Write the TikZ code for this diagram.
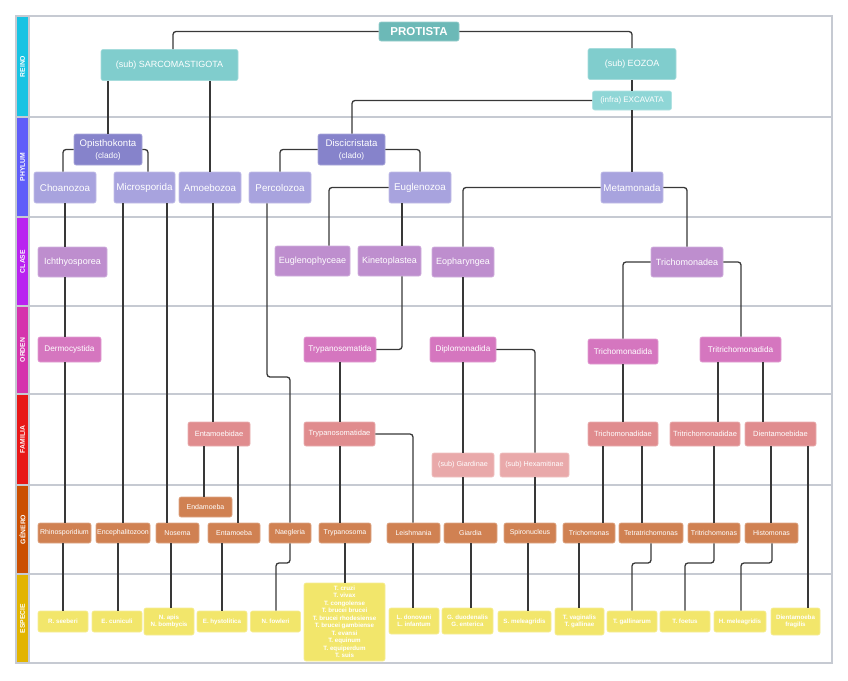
\documentclass[tikz,border=0pt]{standalone}
\usepackage{fontspec}
\setmainfont{Liberation Sans}

\definecolor{gridgray}{HTML}{C6CAD2}
\definecolor{linkc}{HTML}{383838}
\definecolor{protc}{HTML}{6CB9B7}
\definecolor{reinoc}{HTML}{80CDCD}
\definecolor{infrac}{HTML}{8FD6D6}
\definecolor{cladoc}{HTML}{8683CB}
\definecolor{phylumc}{HTML}{A8A3DE}
\definecolor{clasec}{HTML}{BE8ECE}
\definecolor{ordenc}{HTML}{D576BF}
\definecolor{familiac}{HTML}{E08C8E}
\definecolor{subfamc}{HTML}{E9A9AA}
\definecolor{generoc}{HTML}{D08152}
\definecolor{especiec}{HTML}{F2E66B}
\definecolor{reinoband}{HTML}{17C3E3}
\definecolor{phylumband}{HTML}{5F5DF9}
\definecolor{claseband}{HTML}{B923F0}
\definecolor{ordenband}{HTML}{D534AD}
\definecolor{familiaband}{HTML}{E81717}
\definecolor{generoband}{HTML}{CB4F02}
\definecolor{especieband}{HTML}{E2B400}

\tikzset{
  taxon/.style={rectangle, rounded corners=2pt, inner sep=0pt, align=center, text=white, line width=0.6pt},
  protista/.style={taxon, fill=protc, draw=protc!70!white, minimum height=19pt, font=\bfseries\fontsize{11.5}{13}\selectfont},
  subreino/.style={taxon, fill=reinoc, draw=reinoc!70!white, minimum height=31pt, font=\fontsize{9}{11}\selectfont},
  infra/.style={taxon, fill=infrac, draw=infrac!70!white, minimum height=19pt, font=\fontsize{8}{10}\selectfont},
  clado/.style={taxon, fill=cladoc, draw=cladoc!70!white, minimum height=31pt, font=\fontsize{9.6}{12}\selectfont},
  phylum/.style={taxon, fill=phylumc, draw=phylumc!70!white, minimum height=31pt, font=\fontsize{9.8}{12}\selectfont},
  clase/.style={taxon, fill=clasec, draw=clasec!70!white, minimum height=30pt, font=\fontsize{9}{11}\selectfont},
  orden/.style={taxon, fill=ordenc, draw=ordenc!70!white, minimum height=25pt, font=\fontsize{8.2}{10}\selectfont},
  familia/.style={taxon, fill=familiac, draw=familiac!70!white, minimum height=24pt, font=\fontsize{7.5}{9}\selectfont},
  subfam/.style={taxon, fill=subfamc, draw=subfamc!70!white, minimum height=24pt, font=\fontsize{7.2}{9}\selectfont},
  genero/.style={taxon, fill=generoc, draw=generoc!70!white, minimum height=20pt, font=\fontsize{7}{8.5}\selectfont},
  especie/.style={taxon, fill=especiec, draw=especiec!70!white, minimum height=21pt, font=\bfseries\fontsize{6.2}{7.5}\selectfont},
  link/.style={draw=linkc, line width=1.3pt, rounded corners=3pt},
  bandlabel/.style={rotate=90, text=white, font=\bfseries\fontsize{6.8}{8}\selectfont}
}

\begin{document}
\begin{tikzpicture}[x=1pt,y=-1pt]
\useasboundingbox (0,0) rectangle (848,680);
\fill[white] (0,0) rectangle (848,680);
\fill[reinoband] (16,16) rectangle (29,117);
\fill[phylumband] (16,117) rectangle (29,217);
\fill[claseband] (16,217) rectangle (29,306);
\fill[ordenband] (16,306) rectangle (29,394);
\fill[familiaband] (16,394) rectangle (29,485);
\fill[generoband] (16,485) rectangle (29,574);
\fill[especieband] (16,574) rectangle (29,663);
\foreach \y in {117,217,306,394,485,574}
  \draw[gridgray, line width=1.2pt] (16,\y) -- (832,\y);
\draw[gridgray, line width=1.2pt] (16,16) rectangle (832,663);
\draw[gridgray, line width=1.2pt] (29,16) -- (29,663);
\node[bandlabel] (lreino) at (22.5,66.5) {REINO};
\node[bandlabel] (lphylum) at (22.5,167) {PHYLUM};
\node[bandlabel] (lclase) at (22.5,261.5) {CLASE};
\node[bandlabel] (lorden) at (22.5,350) {ORDEN};
\node[bandlabel] (lfamilia) at (22.5,439.5) {FAMILIA};
\node[bandlabel] (lgenero) at (22.5,529.5) {GÉNERO};
\node[bandlabel] (lespecie) at (22.5,618.5) {ESPECIE};

\node[protista, minimum width=80pt] (protista) at (419,31.5) {PROTISTA};
\node[subreino, minimum width=137pt] (sarco) at (169.5,65) {(sub) SARCOMASTIGOTA};
\node[subreino, minimum width=88pt] (eozoa) at (632,64) {(sub) EOZOA};
\node[infra, minimum width=79pt] (excavata) at (632,100.5) {(infra) EXCAVATA};

\node[clado, minimum width=68pt] (opistho) at (108,149.5) {Opisthokonta\\{\fontsize{8.3}{9}\selectfont(clado)}};
\node[clado, minimum width=67pt] (disci) at (351.5,149.5) {Discicristata\\{\fontsize{8.3}{9}\selectfont(clado)}};
\node[phylum, minimum width=62pt] (choano) at (65,187.5) {Choanozoa};
\node[phylum, minimum width=61pt] (micro) at (144.5,187.5) {Microsporida};
\node[phylum, minimum width=62pt] (amoebozoa) at (210,187.5) {Amoebozoa};
\node[phylum, minimum width=62pt] (perco) at (280,187.5) {Percolozoa};
\node[phylum, minimum width=62pt] (eugleno) at (420,187.5) {Euglenozoa};
\node[phylum, minimum width=62pt] (metamonada) at (632,187.5) {Metamonada};

\node[clase, minimum width=69pt] (ichthyo) at (72.5,262) {Ichthyosporea};
\node[clase, minimum width=75pt] (euglenoph) at (312.5,261) {Euglenophyceae};
\node[clase, minimum width=63pt] (kineto) at (389.5,261) {Kinetoplastea};
\node[clase, minimum width=62pt] (eophar) at (463,262) {Eopharyngea};
\node[clase, minimum width=72pt] (trichodea) at (687,262) {Trichomonadea};

\node[orden, minimum width=63pt] (dermo) at (69.5,349.5) {Dermocystida};
\node[orden, minimum width=72pt] (trypida) at (340,349.5) {Trypanosomatida};
\node[orden, minimum width=66pt] (diplo) at (463,349.5) {Diplomonadida};
\node[orden, minimum width=70pt] (trichoda) at (623,351.5) {Trichomonadida};
\node[orden, minimum width=81pt] (tritrichoda) at (740.5,349.5) {Tritrichomonadida};

\node[familia, minimum width=62pt] (entamoebidae) at (219,434) {Entamoebidae};
\node[familia, minimum width=71pt] (trypidae) at (339.5,434) {Trypanosomatidae};
\node[subfam, minimum width=62pt] (giardinae) at (463,465) {(sub) Giardinae};
\node[subfam, minimum width=69pt] (hexamitinae) at (534.5,465) {(sub) Hexamitinae};
\node[familia, minimum width=70pt] (trichodae) at (623,434) {Trichomonadidae};
\node[familia, minimum width=70pt] (tritrichodae) at (705,434) {Tritrichomonadidae};
\node[familia, minimum width=71pt] (dientdae) at (780.5,434) {Dientamoebidae};

\node[genero, minimum width=53pt] (endamoeba) at (205.5,507) {Endamoeba};
\node[genero, minimum width=53pt] (rhino) at (64.5,533) {Rhinosporidium};
\node[genero, minimum width=54pt] (encephalito) at (123,533) {Encephalitozoon};
\node[genero, minimum width=43pt] (nosema) at (177.5,533) {Nosema};
\node[genero, minimum width=52pt] (entamoeba) at (234,533) {Entamoeba};
\node[genero, minimum width=42pt] (naegleria) at (290,533) {Naegleria};
\node[genero, minimum width=52pt] (trypanosoma) at (345,533) {Trypanosoma};
\node[genero, minimum width=53pt] (leish) at (413.5,533) {Leishmania};
\node[genero, minimum width=53pt] (giardia) at (470.5,533) {Giardia};
\node[genero, minimum width=52pt] (spiro) at (530,533) {Spironucleus};
\node[genero, minimum width=52pt] (trichomonas) at (589,533) {Trichomonas};
\node[genero, minimum width=64pt] (tetratricho) at (651,533) {Tetratrichomonas};
\node[genero, minimum width=52pt] (tritricho) at (714,533) {Tritrichomonas};
\node[genero, minimum width=53pt] (histo) at (771.5,533) {Histomonas};

\node[especie, minimum width=50pt] (rseeberi) at (63,621.5) {R. seeberi};
\node[especie, minimum width=50pt] (ecuniculi) at (117,621.5) {E. cuniculi};
\node[especie, minimum width=50pt, minimum height=27pt] (napis) at (169,621.5) {N. apis\\N. bombycis};
\node[especie, minimum width=50pt] (ehysto) at (222,621.5) {E. hystolitica};
\node[especie, minimum width=50pt] (nfowleri) at (275.5,621.5) {N. fowleri};
\node[especie, minimum width=81pt, minimum height=78pt] (tcruzi) at (344.5,622) {T. cruzi\\T. vivax\\T. congolense\\T. brucei brucei\\T. brucei rhodesiense\\T. brucei gambiense\\T. evansi\\T. equinum\\T. equiperdum\\T. suis};
\node[especie, minimum width=50pt, minimum height=26pt] (ldonovani) at (414,621) {L. donovani\\L. infantum};
\node[especie, minimum width=51pt, minimum height=26pt] (gduod) at (467.5,621) {G. duodenalis\\G. enterica};
\node[especie, minimum width=53pt] (smeleag) at (524.5,621.5) {S. meleagridis};
\node[especie, minimum width=49pt, minimum height=27pt] (tvag) at (579.5,621.5) {T. vaginalis\\T. gallinae};
\node[especie, minimum width=50pt] (tgallinarum) at (632,621.5) {T. gallinarum};
\node[especie, minimum width=50pt] (tfoetus) at (685,621.5) {T. foetus};
\node[especie, minimum width=52pt] (hmeleag) at (740,621.5) {H. meleagridis};
\node[especie, minimum width=49pt, minimum height=27pt] (dfragilis) at (795.5,621.5) {Dientamoeba\\fragilis};

\draw[link] (protista.west) -| (sarco.north -| 173,0);
\draw[link] (protista.east) -| (eozoa.north);
\draw[link] (eozoa.south) -- (excavata.north);
\draw[link] (excavata.west) -| (disci.north -| 352,0);
\draw[link] (excavata.south) -- (metamonada.north);
\draw[link] (sarco.south -| opistho.north) -- (opistho.north);
\draw[link] (sarco.south -| amoebozoa.north) -- (amoebozoa.north);
\draw[link] (opistho.west) -| (choano.north -| 63,0);
\draw[link] (opistho.east) -| (micro.north -| 148,0);
\draw[link] (disci.west) -| (perco.north);
\draw[link] (disci.east) -| (eugleno.north);
\draw[link] (eugleno.west) -| (euglenoph.north -| 329,0);
\draw[link] (eugleno.south -| 402,0) -- (kineto.north -| 402,0);
\draw[link] (metamonada.west) -| (eophar.north);
\draw[link] (metamonada.east) -| (trichodea.north);

\draw[link] (choano.south -| 65,0) -- (ichthyo.north -| 65,0);
\draw[link] (micro.south -| 123,0) -- (encephalito.north -| 123,0);
\draw[link] (micro.south -| 167,0) -- (nosema.north -| 167,0);
\draw[link] (amoebozoa.south -| 213,0) -- (entamoebidae.north -| 213,0);
\draw[link] (perco.south -| 267,0) |- (290,377) -- (naegleria.north);
\draw[link] (kineto.south -| 402,0) |- (trypida.east);
\draw[link] (ichthyo.south -| 65,0) -- (dermo.north -| 65,0);
\draw[link] (eophar.south) -- (diplo.north);
\draw[link] (trichodea.west) -| (trichoda.north);
\draw[link] (trichodea.east) -| (tritrichoda.north -| 741,0);

\draw[link] (dermo.south -| 65,0) -- (rhino.north -| 65,0);
\draw[link] (trypida.south) -- (trypidae.north -| trypida.south);
\draw[link] (diplo.south) -- (giardinae.north);
\draw[link] (diplo.east) -| (hexamitinae.north -| 535,0);
\draw[link] (trichoda.south) -- (trichodae.north);
\draw[link] (tritrichoda.south -| 718,0) -- (tritrichodae.north -| 718,0);
\draw[link] (tritrichoda.south -| 763,0) -- (dientdae.north -| 763,0);

\draw[link] (entamoebidae.south -| 204,0) -- (endamoeba.north -| 204,0);
\draw[link] (entamoebidae.south -| 238,0) -- (entamoeba.north -| 238,0);
\draw[link] (trypidae.south -| 340,0) -- (trypanosoma.north -| 340,0);
\draw[link] (trypidae.east) -| (leish.north -| 413,0);
\draw[link] (giardinae.south) -- (giardia.north -| giardinae.south);
\draw[link] (hexamitinae.south -| 535,0) -- (spiro.north -| 535,0);
\draw[link] (trichodae.south -| 603,0) -- (trichomonas.north -| 603,0);
\draw[link] (trichodae.south -| 642,0) -- (tetratricho.north -| 642,0);
\draw[link] (tritrichodae.south -| 714,0) -- (tritricho.north -| 714,0);
\draw[link] (dientdae.south -| 771,0) -- (histo.north -| 771,0);
\draw[link] (dientdae.south -| 808,0) -- (dfragilis.north -| 808,0);

\draw[link] (rhino.south -| 63,0) -- (rseeberi.north -| 63,0);
\draw[link] (encephalito.south -| 118,0) -- (ecuniculi.north -| 118,0);
\draw[link] (nosema.south -| 171,0) -- (napis.north -| 171,0);
\draw[link] (entamoeba.south -| 222,0) -- (ehysto.north -| 222,0);
\draw[link] (naegleria.south) |- (276,563) -- (nfowleri.north -| 276,0);
\draw[link] (trypanosoma.south -| 345,0) -- (tcruzi.north -| 345,0);
\draw[link] (leish.south -| 413,0) -- (ldonovani.north -| 413,0);
\draw[link] (giardia.south -| 471,0) -- (gduod.north -| 471,0);
\draw[link] (spiro.south -| 528,0) -- (smeleag.north -| 528,0);
\draw[link] (trichomonas.south -| 579,0) -- (tvag.north -| 579,0);
\draw[link] (tetratricho.south) |- (632,563) -- (tgallinarum.north);
\draw[link] (tritricho.south) |- (685,563) -- (tfoetus.north);
\draw[link] (histo.south -| 772,0) |- (741,563) -- (hmeleag.north -| 741,0);
\end{tikzpicture}
\end{document}
